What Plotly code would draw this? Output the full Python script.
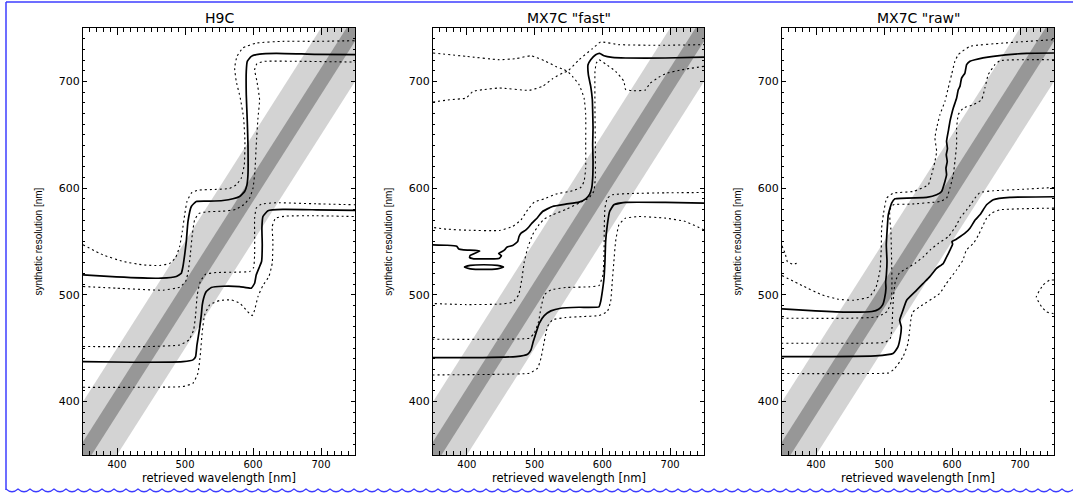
import plotly.graph_objects as go

# ---------------- data (nm) ----------------
AXIS_RANGE = [350, 750]
MAJOR_STEP = 100
MINOR_STEP = 10
DIAG_EXTENT = [300, 800]
WIDE_HALF = 50
NARROW_HALF = 12.5
PANEL_TITLES = ["H9C", 'MX7C "fast"', 'MX7C "raw"']
X_TITLE = "retrieved wavelength [nm]"
Y_TITLE = "synthetic resolution [nm]"

# ---- H9C ----
H9C_SOLID_A = [(350,518.8),(399,516.9),(465.2,515.6),(487.2,517.2),(494.6,520.3),(497,526.6),(499.5,537.5),(501.9,550),(504.4,568.8),(509.3,582.8),(516.6,587.5),(536.2,587.8),(555.8,588.4),(570.5,590),(580.3,592.2),(587.7,596.9),(591.1,603.1),(592.6,612.5),(592.6,640.6),(591.6,662.5),(590.1,687.5),(590.1,709.4),(591.6,718.8),(597.5,723.4),(609.7,725.6),(634.2,726.3),(693,725.3),(750,725)]
H9C_SOLID_B = [(350,437.5),(423.5,436.9),(497,437.5),(511.7,439.1),(515.6,442.2),(517.6,453.1),(521.5,468.8),(524,481.3),(525.4,490.6),(527.4,496.9),(531.3,503.1),(538.7,506.9),(555.8,508.1),(580.3,507.8),(597.5,506.3),(602.4,510.9),(604.8,518.8),(609.7,526.6),(612.6,531.3),(613.6,546.9),(613.1,562.5),(614.6,573.4),(622,578.8),(644,580),(693,579.7),(750,579.1)]
H9C_DOT_A_OUTER = [(350,546.9),(379.4,537.5),(408.8,531.3),(438.2,528.1),(462.7,527.5),(477.4,529.4),(486.2,535),(492.1,545.3),(496,559.4),(499.5,575),(502.9,587.5),(509.3,595.3),(519,598.1),(546,598.8),(565.6,599.7),(575.4,603.1),(582.8,609.4),(587.2,621.9),(588.1,643.8),(586.2,665.6),(581.3,684.4),(575.4,700),(573,712.5),(576.4,723.4),(585.2,731.3),(604.8,735.9),(644,737.5),(693,737.5),(750,738.1)]
H9C_DOT_A_INNER = [(350,507.8),(399,506.3),(467.6,504.4),(492.1,507.2),(500.9,512.5),(504.8,521.9),(507.8,537.5),(510.7,556.3),(514.2,570.3),(520.5,576.3),(531.3,577.8),(555.8,578.4),(574.4,580),(586.2,584.4),(595,590.6),(600,600),(602.8,615.6),(604.8,640.6),(607.3,665.6),(609.7,682.8),(605.8,700),(602.4,710.9),(605.8,716.6),(617,718.8),(668.5,718.8),(750,718.1)]
H9C_DOT_B_UPPER = [(350,451.6),(448,451.6),(492.1,453.1),(505.8,457.8),(512.7,467.2),(515.6,481.3),(518,500),(522.5,512.5),(530.3,519.4),(546,520.9),(575.4,521.3),(595,521.9),(600.9,525.6),(602.4,537.5),(602.4,556.3),(602.4,571.9),(604.8,581.3),(612.2,585),(634.2,586.3),(693,585.3),(750,584.4)]
H9C_DOT_B_LOWER = [(350,413.4),(423.5,413.4),(497,414.1),(511.7,417.2),(519,426.6),(522.5,443.8),(525.4,465.6),(528.9,481.3),(536.2,490.6),(550.9,494.7),(568,495.3),(581.3,491.9),(591.1,485),(598.9,480.6),(602.4,485.9),(607.3,498.4),(614.6,508.8),(623.4,517.2),(628.3,529.7),(629.3,550),(628.3,564.1),(633.2,571.9),(648.9,573.8),(693,574.1),(750,573.4)]

# ---- MX7C "fast" ----
FAST_SOLID_A = [(350,546.9),(370,546.5),(385,545.6),(388,543),(395,542.2),(415,541.6),(419,541),(405,537),(404,535),(410,533.8),(440,533.8),(448,534.4),(451,536.6),(447,538.8),(452,540.6),(456,542.5),(459,544.7),(467.6,546.3),(475,550),(477,554.7),(480,557.8),(487.2,560.9),(492.1,564.1),(496,567.2),(504.4,572.5),(511.7,578.1),(526.4,582.8),(546,585),(565.6,586.9),(575.4,590),(581.3,594.4),(584.2,600),(585.7,609.4),(586.2,625),(585.7,640.6),(586.2,656.3),(585.7,671.9),(585.2,682.8),(582.8,695.3),(579.3,706.3),(578.8,715.6),(582.8,720.3),(590.1,725),(596,726.3),(602.4,724),(614.6,722.5),(634.2,721.9),(693,721.9),(750,722.8)]
FAST_SOLID_ISLAND = [(396.5,526),(405,527.6),(425,528.2),(445,527.6),(454,526),(445,524.4),(425,523.8),(405,524.4),(396.5,526)]
FAST_SOLID_B = [(350,441.3),(423.5,441.3),(472.5,442.2),(489.7,444.4),(494.6,448.4),(498,456.3),(501.9,464),(506.8,473.4),(514.2,480.6),(524,485),(538.7,487.5),(565.6,488.4),(595,488.8),(597.5,493.8),(599.9,503.1),(602.4,515.6),(603.8,531.3),(604.8,550),(607.3,565.6),(610.7,578.1),(617,584.4),(634.2,586.6),(693,586.6),(750,586)]
FAST_DOT_TOP = [(350,726.6),(399,723.4),(448,720.3),(472.5,721.3),(494.6,724),(516.6,718.8),(531.3,714),(541.1,711.6),(548.5,709.4),(555.8,704.7),(565.6,696.9),(573,684.4),(575.4,668.8),(575.4,640.6),(575.4,618.8),(573,606.3),(568,600.6),(555.8,597.5),(531.3,594.4),(514.2,590),(499.5,586.9),(489.7,579.7),(479.9,570.3),(467.6,564.1),(448,560.3),(399,560.6),(369.6,561.6),(350,563.1)]
FAST_DOT_LEFT = [(350,680.6),(374.5,682.8),(399,684.4),(408.8,690.6),(423.5,692.2),(448,693.8),(492.1,691.6),(511.7,695.3),(526.4,702.5),(541.1,707.8),(548.5,709.4),(565.6,720.3),(585.2,730.6),(597.5,736.9),(624.4,734.4),(683.2,733.8),(750,734.4)]
FAST_DOT_A_INNER = [(750,714.1),(717.5,710.9),(693,707.2),(683.2,703.8),(670,698),(663.6,691.9),(644,691.3),(634.2,692.5),(631.8,700),(619.5,709.4),(604.8,716.3),(595,720.3),(591.1,717.2),(589.1,709.4),(589.1,671.9),(589.6,640.6),(589.6,609.4),(587.2,596.9),(580.3,591),(565.6,586),(546,580),(526.4,575),(514.2,571),(506.8,566),(497,556.3),(489.7,543.8),(484.8,531.3),(481.3,515.6),(476.4,500),(467.6,493.1),(448,491.3),(399,490.9),(350,491.9)]
FAST_DOT_B_UPPER = [(750,595.9),(693,595.6),(644,595),(614.6,593.8),(607.3,590.6),(603.8,581.3),(602.8,562.5),(602.4,537.5),(600.9,518.8),(595,508.8),(580.3,507.5),(546,506.9),(524,504.7),(514.2,500),(509.3,487.5),(505.8,475),(499.5,464.1),(492.1,459.4),(448,458.4),(350,458.4)]
FAST_DOT_B_LOWER = [(750,560.9),(722.4,568.8),(693,571.9),(653.8,573.4),(634.2,571.9),(624.4,565.6),(619.5,550),(617,531.3),(614.6,512.5),(612.2,493.8),(607.3,484.4),(595,480.6),(570.5,479.7),(546,478.8),(526.4,476.6),(519,470.3),(514.2,456.3),(509.3,440.6),(504.4,431.3),(492.1,426.6),(448,425.6),(350,425)]

# ---- MX7C "raw" ----
RAW_SOLID_A = [(350,486.9),(399,485),(448,483.8),(482.3,484.4),(492.1,486.6),(498,490.6),(500.9,496.9),(502.9,506.3),(502.4,512),(503.5,518.8),(504.4,531.3),(503.4,546.9),(504.8,562.5),(506.3,575),(511.2,585.9),(516.1,590),(562.7,591.3),(577.4,593.8),(584.7,596.9),(589.6,606.3),(592,612.5),(591.1,618.8),(593,625),(591.6,631.3),(593.3,637),(592,643.8),(594.5,653.1),(597,662.5),(599,668),(601.9,675),(606.8,684.4),(609.2,692.2),(611.7,695.3),(614.1,703.1),(619,707.8),(621.5,715.6),(626.4,718.8),(633.7,720.3),(660.7,723.4),(709.7,726.3),(750,726.6)]
RAW_SOLID_B = [(350,442.2),(423.5,442.2),(487.2,442.8),(513.2,445),(520.5,451.3),(524,460.6),(525.4,470),(523,476.3),(527.9,485.6),(533.3,495),(548,504.4),(557.3,510.6),(567.1,516.9),(576.9,524.7),(587.2,529.4),(592.1,535.6),(597,541.9),(600.9,547.5),(599.9,550),(604.8,551.6),(612.2,554.7),(619.5,558),(626.4,562.5),(634.2,570.3),(641.1,575),(650.9,584.4),(660.7,589.1),(685.2,591.3),(750,591.9)]
RAW_DOT_A_OUTER = [(350,518.1),(379.4,508.8),(408.8,500),(433.3,495.9),(455.4,495),(478.4,498.1),(488.2,506.9),(494.1,523.1),(496,543.8),(496.5,562.5),(499,575),(503.9,590.6),(513.7,595.3),(543.1,596.9),(565.1,603.1),(570,612.5),(574.9,625),(577.4,634.4),(574.9,646.9),(577.4,656.3),(582.3,668.8),(589.6,681.3),(594.5,693.8),(599.4,706.3),(604.3,718.8),(609.2,725),(626.4,732.8),(675.4,735.9),(750,739.1)]
RAW_DOT_A_INNER = [(750,720.3),(670.5,719.4),(663.1,715.6),(653.3,706.3),(648.4,693.8),(643.5,682.8),(631.3,678.1),(616.6,675),(609.2,668.8),(606.8,656.3),(606.8,640.6),(604.3,625),(601.9,612.5),(597,600),(592,590.6),(582.3,587.5),(538.2,585),(513.7,584.4),(508.5,579.7),(508.8,568.8),(510,562.5),(510.7,546.9),(511.2,531.3),(511.7,512.5),(510.7,493.8),(504.4,484.4),(489.7,479.4),(448,478.1),(350,478.1)]
RAW_DOT_B_UPPER = [(750,600.6),(709.7,599.1),(660.7,597.5),(641.1,595.9),(633.7,590.6),(628.8,585.9),(621.5,579.7),(611.7,571.9),(606.8,565.6),(595,554.7),(580.3,548.4),(568,542.2),(558.3,535.9),(546,529.7),(533.8,525),(522.5,520.3),(516.6,512.5),(514.2,500),(512.7,484.4),(511.7,468.8),(509.3,459.4),(501.9,455.6),(472.5,454.7),(350,454.7)]
RAW_DOT_B_LOWER = [(750,581.3),(670.5,579.7),(658.2,576.6),(650.9,571.9),(646,565.6),(639.1,556.3),(631.8,548.4),(621,541.9),(616.1,532.5),(606.3,523.1),(591.6,510.6),(581.8,501.3),(552.4,488.8),(542.6,484.1),(540.1,479.4),(537.7,466.9),(535.2,454.4),(527.9,441.9),(515.6,430.9),(506.8,426.9),(472.5,426.3),(350,426.3)]
RAW_DOT_LOOP_RIGHT = [(750,514),(743.6,513.8),(733.8,509.1),(724,498.1),(731.8,488.8),(739.2,484),(748.5,482.5),(750,482.3)]
RAW_DOT_LOOP_LEFT = [(350,546),(355,538),(358,531),(365,529),(376,530)]

PANELS = [
    {"solid": [H9C_SOLID_A, H9C_SOLID_B],
     "dotted": [H9C_DOT_A_OUTER, H9C_DOT_A_INNER, H9C_DOT_B_UPPER, H9C_DOT_B_LOWER]},
    {"solid": [FAST_SOLID_A, FAST_SOLID_ISLAND, FAST_SOLID_B],
     "dotted": [FAST_DOT_TOP, FAST_DOT_LEFT, FAST_DOT_A_INNER, FAST_DOT_B_UPPER, FAST_DOT_B_LOWER]},
    {"solid": [RAW_SOLID_A, RAW_SOLID_B],
     "dotted": [RAW_DOT_A_OUTER, RAW_DOT_A_INNER, RAW_DOT_B_UPPER, RAW_DOT_B_LOWER,
                RAW_DOT_LOOP_RIGHT, RAW_DOT_LOOP_LEFT]},
]

# ---------------- figure ----------------
W, H = 1073, 494
ML, MR, MT, MB = 83, 19, 28, 39
PW = W - ML - MR
PH = H - MT - MB
PANEL_PX = [(83, 355), (433, 704), (782, 1054)]

FONT = "DejaVu Sans, Verdana, sans-serif"
LIGHT = "#d3d3d3"
DARK = "#979797"
BLUE = "#3c3cff"

fig = go.Figure()


def band(half, color, xa, ya):
    x0, x1 = DIAG_EXTENT
    fig.add_trace(go.Scatter(
        x=[x0, x1, x1, x0, x0],
        y=[x0 - half, x1 - half, x1 + half, x0 + half, x0 - half],
        mode="lines", fill="toself", fillcolor=color,
        line=dict(width=0, color=color), hoverinfo="skip",
        showlegend=False, xaxis=xa, yaxis=ya))


for i, panel in enumerate(PANELS):
    k = "" if i == 0 else str(i + 1)
    xa, ya = "x" + k, "y" + k
    band(WIDE_HALF, LIGHT, xa, ya)
    band(NARROW_HALF, DARK, xa, ya)
    for curve in panel["dotted"]:
        fig.add_trace(go.Scatter(
            x=[p[0] for p in curve], y=[p[1] for p in curve], mode="lines",
            line=dict(color="black", width=1.1, dash="2px,3px", shape="spline", smoothing=0.4),
            showlegend=False, hoverinfo="skip", xaxis=xa, yaxis=ya))
    for curve in panel["solid"]:
        fig.add_trace(go.Scatter(
            x=[p[0] for p in curve], y=[p[1] for p in curve], mode="lines",
            line=dict(color="black", width=1.7, shape="spline", smoothing=0.4),
            showlegend=False, hoverinfo="skip", xaxis=xa, yaxis=ya))

layout = dict(
    width=W, height=H, autosize=False,
    margin=dict(l=ML, r=MR, t=MT, b=MB, pad=0),
    paper_bgcolor="white", plot_bgcolor="white",
    showlegend=False,
    font=dict(family=FONT, size=11, color="black"),
)

annotations = []
for i, (p0, p1) in enumerate(PANEL_PX):
    k = "" if i == 0 else str(i + 1)
    d0 = (p0 - ML) / PW
    d1 = (p1 - ML) / PW
    common = dict(
        range=AXIS_RANGE, tick0=0, dtick=MAJOR_STEP, ticks="inside",
        tickcolor="black", tickwidth=1, showline=True, linecolor="black",
        linewidth=1, mirror="allticks", showgrid=False, zeroline=False,
        fixedrange=True,
    )
    layout["xaxis" + k] = dict(common, domain=[d0, d1], anchor="y" + k, ticklen=7,
                               tickfont=dict(family=FONT, size=10, color="black"),
                               minor=dict(dtick=MINOR_STEP, tick0=0, ticks="inside", ticklen=4,
                                          tickcolor="black", tickwidth=1, showgrid=False))
    layout["yaxis" + k] = dict(common, domain=[0, 1], anchor="x" + k, ticklen=4,
                               tickfont=dict(family=FONT, size=11, color="black"),
                               minor=dict(dtick=MINOR_STEP, tick0=0, ticks="inside", ticklen=2,
                                          tickcolor="black", tickwidth=1, showgrid=False))
    annotations.append(dict(text=PANEL_TITLES[i], xref="x%s domain" % k, yref="paper",
                            x=0.5, y=1 + 10 / PH, xanchor="center", yanchor="middle",
                            showarrow=False, font=dict(family=FONT, size=14, color="black")))
    annotations.append(dict(text=X_TITLE, xref="x%s domain" % k, yref="paper",
                            x=0.5, y=-23 / PH, xanchor="center", yanchor="middle",
                            showarrow=False, font=dict(family=FONT, size=11.5, color="black")))
    annotations.append(dict(text=Y_TITLE, xref="x%s domain" % k, yref="paper",
                            x=-45 / 272, y=0.5, xanchor="center", yanchor="middle", textangle=-90,
                            showarrow=False,
                            font=dict(family="Liberation Sans, Arial, sans-serif", size=10, color="black")))

layout["annotations"] = annotations


# decorative blue page frame (left rule, top rule, wavy bottom rule)
def px2paper(px, py):
    return (px - ML) / PW, (H - MB - py) / PH


lx, ty = px2paper(6, 2)
_, by = px2paper(6, 490)
rx, _ = px2paper(W + 2, 0)
shapes = [
    dict(type="line", xref="paper", yref="paper", x0=lx, x1=lx, y0=ty, y1=by,
         line=dict(color=BLUE, width=1.5)),
    dict(type="line", xref="paper", yref="paper", x0=lx, x1=rx, y0=ty, y1=ty,
         line=dict(color=BLUE, width=1.5)),
]
path = []
period = 12
xs = 6
x0p, y0p = px2paper(xs, 489)
path.append("M %.5f %.5f" % (x0p, y0p))
while xs < W:
    cx, cy = px2paper(xs + period / 2, 494.5)
    ex, ey = px2paper(xs + period, 489)
    path.append("Q %.5f %.5f %.5f %.5f" % (cx, cy, ex, ey))
    xs += period
shapes.append(dict(type="path", xref="paper", yref="paper", path=" ".join(path),
                   line=dict(color=BLUE, width=1.2)))
layout["shapes"] = shapes

fig.update_layout(**layout)

fig.write_html("out.html", config={"displayModeBar": False, "staticPlot": True},
               post_script="document.body.style.margin='0';document.body.style.overflow='hidden';")
